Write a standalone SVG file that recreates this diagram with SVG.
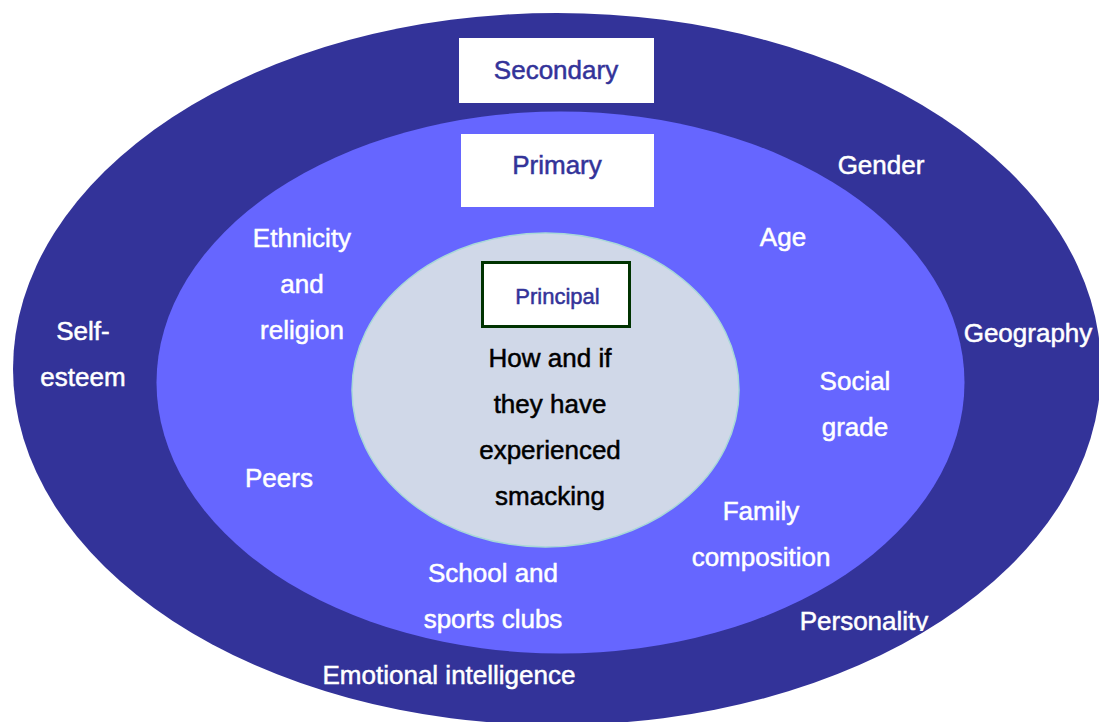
<svg xmlns="http://www.w3.org/2000/svg" width="1099" height="722" viewBox="0 0 1099 722">
  <style>
    text { font-family: "Liberation Sans", Arial, sans-serif; text-anchor: middle; stroke-width: 0.5px; }
    .lbl { fill: #ffffff; stroke: #ffffff; font-size: 26px; }
    .ctr { fill: #000000; stroke: #000000; font-size: 26px; }
    .hdr { fill: #333399; stroke: #333399; font-size: 26px; }
    .box { fill: #ffffff; }
  </style>
  <defs>
    <clipPath id="clipPers"><rect x="780" y="590" width="180" height="41"/></clipPath>
  </defs>
  <rect width="1099" height="722" fill="#ffffff"/>

  <g id="secondary">
    <ellipse cx="557" cy="369" rx="544" ry="356" fill="#333399"/>
    <rect class="box" x="459" y="38" width="195" height="65"/>
    <text class="hdr" x="556" y="79">Secondary</text>
    <text class="lbl" x="881" y="174">Gender</text>
    <text class="lbl" x="1028" y="342">Geography</text>
    <text class="lbl" x="83" y="340">Self-</text>
    <text class="lbl" x="83" y="386">esteem</text>
    <text class="lbl" x="864" y="630" clip-path="url(#clipPers)">Personality</text>
    <text class="lbl" x="449" y="684">Emotional intelligence</text>
  </g>

  <g id="primary">
    <ellipse cx="560.5" cy="382.5" rx="404" ry="271" fill="#6666ff"/>
    <rect class="box" x="461" y="134" width="193" height="73"/>
    <text class="hdr" x="557" y="174">Primary</text>
    <text class="lbl" x="302" y="247">Ethnicity</text>
    <text class="lbl" x="302" y="293">and</text>
    <text class="lbl" x="302" y="339">religion</text>
    <text class="lbl" x="783" y="246">Age</text>
    <text class="lbl" x="855" y="390">Social</text>
    <text class="lbl" x="855" y="436">grade</text>
    <text class="lbl" x="279" y="487">Peers</text>
    <text class="lbl" x="761" y="520">Family</text>
    <text class="lbl" x="761" y="566">composition</text>
    <text class="lbl" x="493" y="582">School and</text>
    <text class="lbl" x="493" y="628">sports clubs</text>
  </g>

  <g id="principal">
    <ellipse cx="545.5" cy="390" rx="193.5" ry="157" fill="#d0d8e8" stroke="#a8d8d8" stroke-width="1.5"/>
    <rect x="482.5" y="262.5" width="147" height="64" fill="#ffffff" stroke="#003300" stroke-width="3"/>
    <text x="557.5" y="304" fill="#333399" stroke="#333399" font-size="22">Principal</text>
    <text class="ctr" x="550" y="367">How and if</text>
    <text class="ctr" x="550" y="413">they have</text>
    <text class="ctr" x="550" y="459">experienced</text>
    <text class="ctr" x="550" y="505">smacking</text>
  </g>
</svg>
